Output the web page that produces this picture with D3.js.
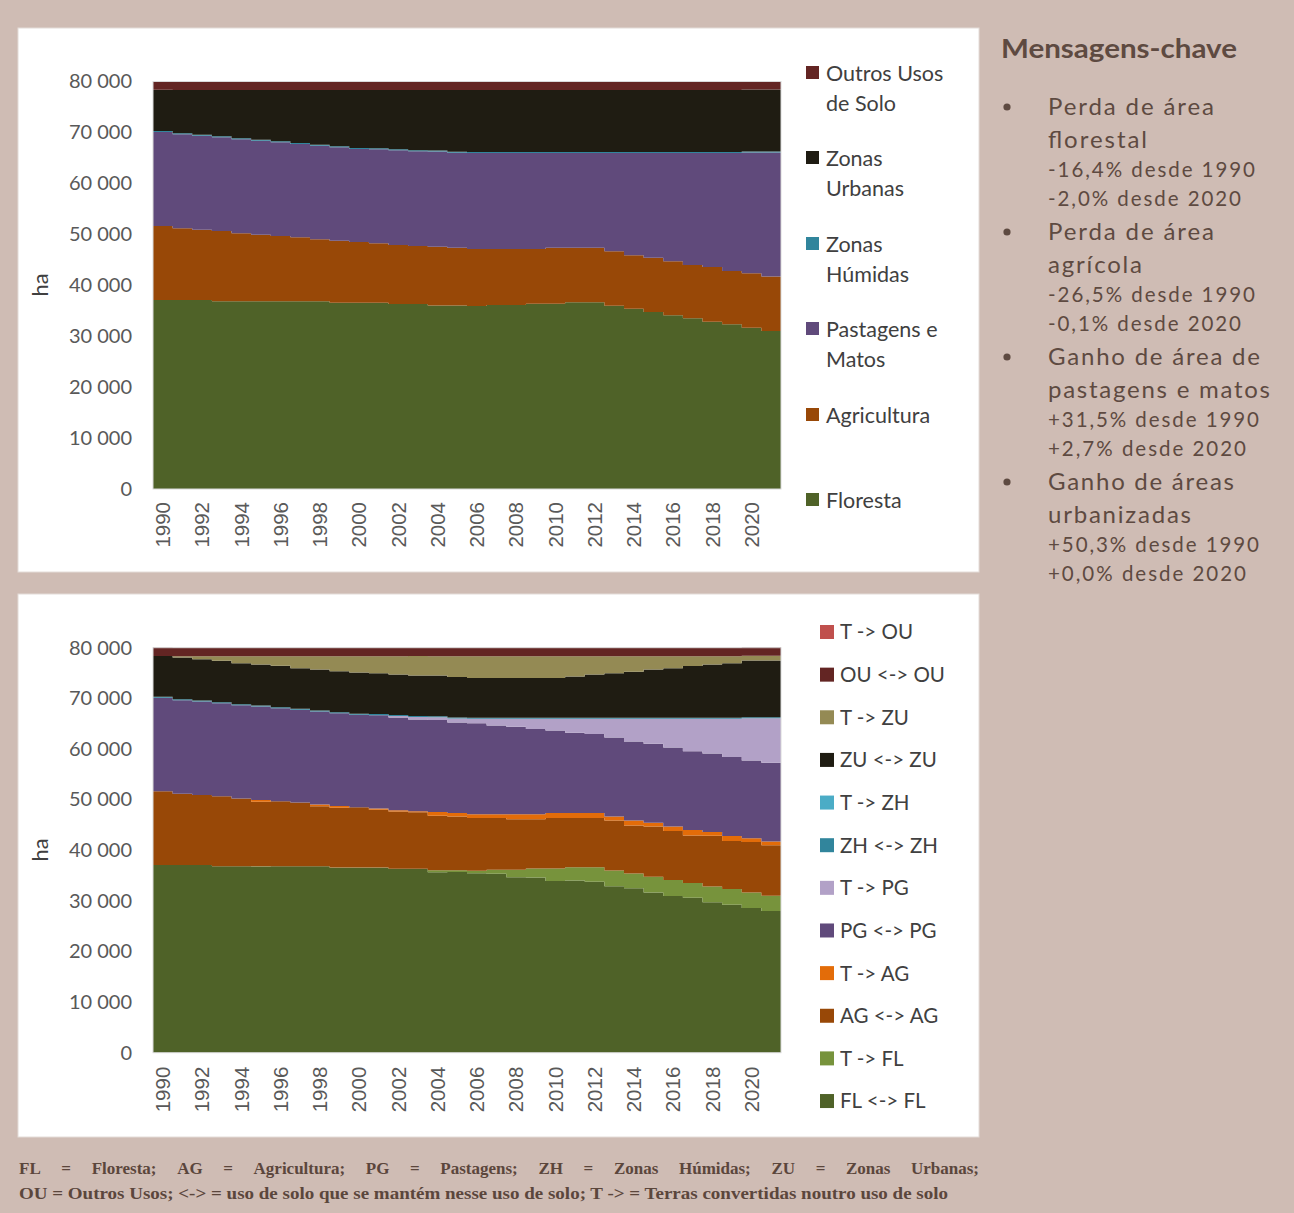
<!DOCTYPE html>
<html lang="pt">
<head>
<meta charset="utf-8">
<script src="https://cdn.jsdelivr.net/npm/d3@7"></script>
<style>
  body { margin: 0; background: #cfbcb4; }
  svg { display: block; }
</style>
</head>
<body>
<script>
// ---------- data (ha) ----------
const years = [1990,1991,1992,1993,1994,1995,1996,1997,1998,1999,2000,2001,2002,2003,2004,2005,
               2006,2007,2008,2009,2010,2011,2012,2013,2014,2015,2016,2017,2018,2019,2020,2021];
const yTicks = [0,10000,20000,30000,40000,50000,60000,70000,80000];
const yearTicks = [1990,1992,1994,1996,1998,2000,2002,2004,2006,2008,2010,2012,2014,2016,2018,2020];

// land use totals
const floresta    = [37100,37100,37100,36850,36850,36850,36850,36850,36850,36570,36570,36570,36320,36320,36020,36020,
                     35920,36120,36120,36370,36370,36650,36650,35980,35390,34750,34100,33510,32840,32330,31650,31020];
const agricultura = [14530,14070,13800,13800,13350,13070,12820,12560,12170,12170,11920,11660,11580,11390,11520,11350,
                     11190,10990,10990,10740,10990,10720,10720,10680,10480,10660,10600,10460,10740,10460,10690,10680];
const pastagens   = [18470,18450,18450,18390,18450,18450,18390,18310,18370,18330,18250,18450,18590,18590,18700,18640,
                     18840,18840,18840,18840,18590,18590,18590,19290,20080,20550,21260,21980,22370,23160,23700,24340];
const humidas     = [200,200,200,200,200,200,200,200,200,200,200,200,200,200,200,200,
                     200,200,200,200,200,200,200,200,200,200,200,200,200,200,200,200];
const urbanas     = [8080,8500,8775,9090,9480,9760,10070,10400,10740,11050,11390,11440,11640,11840,11880,12110,
                     12175,12175,12175,12175,12175,12175,12175,12175,12175,12175,12175,12175,12175,12175,12175,12175];
const outros      = [1670,1670,1670,1670,1670,1670,1670,1670,1670,1670,1670,1670,1670,1670,1670,1670,
                     1670,1670,1670,1670,1670,1670,1670,1670,1670,1670,1670,1670,1670,1670,1670,1670];

// land remaining / land converted
const flFl = [37100,37100,37100,36850,36850,36790,36850,36850,36850,36510,36510,36510,36320,36320,35620,35680,
              35470,35330,34680,34590,33920,34020,33770,32880,32490,31650,30940,30610,29740,29230,28570,28000];
const tFl  = [0,0,0,0,0,60,0,0,0,60,60,60,0,0,400,340,
              450,790,1440,1780,2450,2630,2880,3100,2900,3100,3160,2900,3100,3100,3080,3020];
const agAg = [14530,14070,13800,13800,13350,12730,12820,12560,11830,11830,11920,11400,11320,11190,10790,10640,
              10460,10260,10000,9750,10000,9730,9730,9890,9490,9930,9670,9390,10010,9470,9960,9950];
const tAg  = [0,0,0,0,0,340,0,0,340,340,0,260,260,200,730,710,
              730,730,990,990,990,990,990,790,990,730,930,1070,730,990,730,730];
const pgPg = [18470,18450,18450,18390,18450,18450,18390,18310,18370,18330,18250,18450,18330,18130,18190,17850,
              17990,17540,17260,16810,16300,15820,15570,15620,15620,15610,15610,15600,15540,15600,15400,15590];
const tPg  = [0,0,0,0,0,0,0,0,0,0,0,0,260,460,510,790,
              850,1300,1580,2030,2290,2770,3020,3670,4460,4940,5650,6380,6830,7560,8300,8750];
const zhZh = [200,200,200,200,200,200,200,200,200,200,200,200,200,200,200,200,
              200,200,200,200,200,200,200,200,200,200,200,200,200,200,200,200];
const tZh  = [0,0,0,0,0,0,0,0,0,0,0,0,0,0,0,0,
              0,0,0,0,0,0,0,0,0,0,0,0,0,0,0,0];
const zuZu = [8080,8240,8185,8160,8100,8120,8150,8030,8110,8090,8170,8080,8030,8030,8070,8020,
              7885,7885,7885,7885,7885,8165,8565,8815,9075,9545,9805,10255,10535,10795,11245,11245];
const tZu  = [0,260,590,930,1380,1640,1920,2370,2630,2960,3220,3360,3610,3810,3810,4090,
              4290,4290,4290,4290,4290,4010,3610,3360,3100,2630,2370,1920,1640,1380,930,930];
const ouOu = [1670,1670,1670,1670,1670,1670,1670,1670,1670,1670,1670,1670,1670,1670,1670,1670,
              1670,1670,1670,1670,1670,1670,1670,1670,1670,1670,1670,1670,1670,1670,1670,1670];
const tOu  = [0,0,0,0,0,0,0,0,0,0,0,0,0,0,0,0,
              0,0,0,0,0,0,0,0,0,0,0,0,0,0,0,0];

// series definitions, bottom of stack first
const topSeries = [
  { key: "Floresta",            values: floresta,    color: "#4f6228", legend: ["Floresta"] },
  { key: "Agricultura",         values: agricultura, color: "#984807", legend: ["Agricultura"] },
  { key: "Pastagens e Matos",   values: pastagens,   color: "#604a7b", legend: ["Pastagens e", "Matos"] },
  { key: "Zonas Húmidas",       values: humidas,     color: "#31859c", legend: ["Zonas", "Húmidas"] },
  { key: "Zonas Urbanas",       values: urbanas,     color: "#1f1c12", legend: ["Zonas", "Urbanas"] },
  { key: "Outros Usos de Solo", values: outros,      color: "#632523", legend: ["Outros Usos", "de Solo"] }
];
const bottomSeries = [
  { key: "FL <-> FL", values: flFl, color: "#4f6228" },
  { key: "T -> FL",   values: tFl,  color: "#77933c" },
  { key: "AG <-> AG", values: agAg, color: "#984807" },
  { key: "T -> AG",   values: tAg,  color: "#e36c09" },
  { key: "PG <-> PG", values: pgPg, color: "#604a7b" },
  { key: "T -> PG",   values: tPg,  color: "#b2a1c7" },
  { key: "ZH <-> ZH", values: zhZh, color: "#31859c" },
  { key: "T -> ZH",   values: tZh,  color: "#4bacc6" },
  { key: "ZU <-> ZU", values: zuZu, color: "#1f1c12" },
  { key: "T -> ZU",   values: tZu,  color: "#948a54" },
  { key: "OU <-> OU", values: ouOu, color: "#632523" },
  { key: "T -> OU",   values: tOu,  color: "#c0504d" }
];

const messages = [
  { head: [["Perda de área", 166], ["florestal", 99]],
    nums: [["-16,4% desde 1990", 207], ["-2,0% desde 2020", 193]] },
  { head: [["Perda de área", 166], ["agrícola", 94]],
    nums: [["-26,5% desde 1990", 207], ["-0,1% desde 2020", 193]] },
  { head: [["Ganho de área de", 212], ["pastagens e matos", 222]],
    nums: [["+31,5% desde 1990", 211], ["+2,7% desde 2020", 198]] },
  { head: [["Ganho de áreas", 186], ["urbanizadas", 143]],
    nums: [["+50,3% desde 1990", 211], ["+0,0% desde 2020", 198]] }
];

const footLine1 = ["FL","=","Floresta;","AG","=","Agricultura;","PG","=","Pastagens;","ZH","=","Zonas","Húmidas;","ZU","=","Zonas","Urbanas;"];
const footLine2 = "OU = Outros Usos; <-> = uso de solo que se mantém nesse uso de solo; T -> = Terras convertidas noutro uso de solo";

// ---------- page ----------
const W = 1294, H = 1213;
const svg = d3.select("body").append("svg").attr("width", W).attr("height", H);
svg.append("rect").attr("width", W).attr("height", H).attr("fill", "#cfbcb4");

const locale = d3.formatLocale({ decimal: ",", thousands: " ", grouping: [3], currency: ["", "€"] });
const fmtY = locale.format(",");

function drawChart(cfg) {
  const g = svg.append("g");
  // white panel
  g.append("rect")
    .attr("x", cfg.panel[0]).attr("y", cfg.panel[1])
    .attr("width", cfg.panel[2]).attr("height", cfg.panel[3])
    .attr("fill", "#ffffff").attr("stroke", "#e4dcd8").attr("stroke-width", 1);

  const x = d3.scaleBand().domain(years).range([153, 781]).padding(0);
  const y = d3.scaleLinear().domain([0, 80000]).range([cfg.plotBottom, cfg.plotTop]);

  const table = years.map((yr, i) => {
    const row = { year: yr };
    cfg.series.forEach(s => row[s.key] = s.values[i]);
    return row;
  });
  const layers = d3.stack().keys(cfg.series.map(s => s.key))(table);
  const colorOf = new Map(cfg.series.map(s => [s.key, s.color]));

  const area = d3.area()
    .curve(d3.curveStepAfter)
    .x(d => d.x)
    .y0(d => y(d.v0))
    .y1(d => y(d.v1));

  g.append("g").selectAll("path")
    .data(layers)
    .join("path")
    .attr("fill", d => colorOf.get(d.key))
    .attr("d", layer => {
      const pts = layer.map((p, i) => ({ x: x(years[i]), v0: p[0], v1: p[1] }));
      const last = layer[layer.length - 1];
      pts.push({ x: x.range()[1], v0: last[0], v1: last[1] });
      return area(pts);
    });

  // plot border
  g.append("rect")
    .attr("x", 153).attr("y", y(80000))
    .attr("width", 781 - 153).attr("height", y(0) - y(80000))
    .attr("fill", "none").attr("stroke", "#d9d9d9").attr("stroke-width", 1);

  // y axis
  const ya = g.append("g").attr("transform", "translate(153,0)")
    .call(d3.axisLeft(y).tickValues(yTicks).tickSize(0).tickPadding(21).tickFormat(fmtY));
  ya.select(".domain").remove();
  ya.selectAll("text")
    .attr("font-family", "Lato, 'Open Sans', sans-serif")
    .attr("font-size", 20).attr("fill", "#595959");

  // x axis
  const xa = g.append("g").attr("transform", `translate(0,${y(0)})`)
    .call(d3.axisBottom(x).tickValues(yearTicks).tickSize(0));
  xa.select(".domain").remove();
  xa.selectAll("text")
    .attr("transform", "rotate(-90)")
    .attr("x", -cfg.xLabelGap).attr("y", 0).attr("dy", "0.36em")
    .attr("text-anchor", "end")
    .attr("font-family", "'Liberation Sans', Arial, sans-serif")
    .attr("font-size", 20.5).attr("fill", "#595959");

  // axis title
  g.append("text")
    .attr("transform", `translate(48,${cfg.haY}) rotate(-90)`)
    .attr("text-anchor", "middle")
    .attr("font-family", "Lato, 'Open Sans', sans-serif")
    .attr("font-size", 22).attr("fill", "#404040")
    .text("ha");

  return g;
}

// ---------- top chart ----------
const gTop = drawChart({
  panel: [18, 28, 961, 544],
  plotTop: 81.5, plotBottom: 489,
  series: topSeries, xLabelGap: 13, haY: 285
});
const topLegendY = { "Outros Usos de Solo": 73, "Zonas Urbanas": 158, "Zonas Húmidas": 244,
                     "Pastagens e Matos": 329, "Agricultura": 415, "Floresta": 500 };
const tl = gTop.append("g").selectAll("g")
  .data(topSeries.slice().reverse())
  .join("g")
  .attr("transform", d => `translate(806,${topLegendY[d.key]})`);
tl.append("rect").attr("x", 0).attr("y", -7).attr("width", 13).attr("height", 13)
  .attr("fill", d => d.color);
tl.append("text")
  .attr("font-family", "Lato, 'Open Sans', sans-serif")
  .attr("font-size", 21.5).attr("fill", "#404040")
  .selectAll("tspan").data(d => d.legend).join("tspan")
  .attr("x", 20).attr("y", (d, i) => i * 30.5).attr("dy", "0.35em")
  .text(d => d);

// ---------- bottom chart ----------
const gBot = drawChart({
  panel: [18, 594, 961, 543],
  plotTop: 647.7, plotBottom: 1052.7,
  series: bottomSeries, xLabelGap: 14, haY: 850
});
const bl = gBot.append("g").selectAll("g")
  .data(bottomSeries.slice().reverse())
  .join("g")
  .attr("transform", (d, i) => `translate(820,${632 + i * 42.64})`);
bl.append("rect").attr("x", 0).attr("y", -7).attr("width", 14).attr("height", 14)
  .attr("fill", d => d.color);
bl.append("text")
  .attr("x", 20).attr("dy", "0.36em")
  .attr("font-family", "Lato, 'Open Sans', sans-serif")
  .attr("font-size", 20.5).attr("fill", "#404040")
  .text(d => d.key);

// ---------- key messages ----------
const txtCol = "#5e4a41";
const side = svg.append("g");
side.append("text")
  .attr("x", 1001).attr("y", 58)
  .attr("font-family", "Lato, 'Open Sans', sans-serif")
  .attr("font-weight", 700).attr("font-size", 27).attr("fill", txtCol)
  .attr("textLength", 236).attr("lengthAdjust", "spacingAndGlyphs")
  .text("Mensagens-chave");

const lineY = [107,140,170,199, 232,265,295,324, 357,390,420,449, 482,515,545,574];
messages.forEach((m, k) => {
  const base = k * 4;
  side.append("circle").attr("cx", 1007).attr("cy", lineY[base]).attr("r", 3.6).attr("fill", txtCol);
  const lines = [
    ...m.head.map(h => ({ t: h[0], w: h[1], size: 24 })),
    ...m.nums.map(n => ({ t: n[0], w: n[1], size: 20.5 }))
  ];
  lines.forEach((ln, j) => {
    side.append("text")
      .attr("x", 1048).attr("y", lineY[base + j]).attr("dy", "0.35em")
      .attr("font-family", "Lato, 'Open Sans', sans-serif")
      .attr("font-size", ln.size).attr("fill", txtCol)
      .attr("textLength", ln.w).attr("lengthAdjust", "spacing")
      .text(ln.t);
  });
});

// ---------- footnote ----------
const foot = svg.append("g")
  .attr("font-family", "'Liberation Serif', 'DejaVu Serif', serif")
  .attr("font-weight", 700).attr("font-size", 17).attr("fill", "#5b463c");
// first line: justified word by word across the panel width
const words = foot.selectAll("text.w").data(footLine1).join("text")
  .attr("class", "w").attr("y", 1174).text(d => d);
const widths = [];
words.each(function () { widths.push(this.getComputedTextLength()); });
const span = 979 - 19;
const gap = (span - d3.sum(widths)) / (footLine1.length - 1);
let cx = 19;
words.attr("x", (d, i) => { const v = cx; cx += widths[i] + gap; return v; });
// second line
foot.append("text").attr("x", 19).attr("y", 1199)
  .attr("textLength", 929).attr("lengthAdjust", "spacingAndGlyphs")
  .text(footLine2);
</script>
</body>
</html>
